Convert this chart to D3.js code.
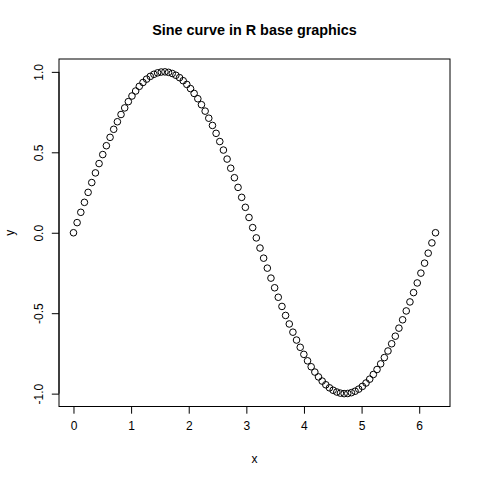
<!DOCTYPE html>
<html>
<head>
<meta charset="utf-8">
<script src="https://cdn.jsdelivr.net/npm/d3@7"></script>
<style>
  body { margin: 0; background: #fff; }
  svg { display: block; font-family: "Liberation Sans", Arial, sans-serif; }
</style>
</head>
<body>
<svg id="chart"></svg>
<script>
// x = seq(0, 2*pi, length.out = 100)
const xValues = [
  0.000, 0.063, 0.127, 0.190, 0.254, 0.317, 0.381, 0.444, 0.508, 0.571,
  0.635, 0.698, 0.762, 0.825, 0.889, 0.952, 1.015, 1.079, 1.142, 1.206,
  1.269, 1.333, 1.396, 1.460, 1.523, 1.587, 1.650, 1.714, 1.777, 1.841,
  1.904, 1.967, 2.031, 2.094, 2.158, 2.221, 2.285, 2.348, 2.412, 2.475,
  2.539, 2.602, 2.666, 2.729, 2.793, 2.856, 2.919, 2.983, 3.046, 3.110,
  3.173, 3.237, 3.300, 3.364, 3.427, 3.491, 3.554, 3.618, 3.681, 3.745,
  3.808, 3.871, 3.935, 3.998, 4.062, 4.125, 4.189, 4.252, 4.316, 4.379,
  4.443, 4.506, 4.570, 4.633, 4.697, 4.760, 4.823, 4.887, 4.950, 5.014,
  5.077, 5.141, 5.204, 5.268, 5.331, 5.395, 5.458, 5.522, 5.585, 5.648,
  5.712, 5.775, 5.839, 5.902, 5.966, 6.029, 6.093, 6.156, 6.220, 6.283
];

const yValues = [
  0.000, 0.063, 0.127, 0.189, 0.251, 0.312, 0.372, 0.430, 0.486, 0.541,
  0.593, 0.643, 0.690, 0.735, 0.776, 0.815, 0.850, 0.881, 0.910, 0.934,
  0.955, 0.972, 0.985, 0.994, 0.999, 1.000, 0.997, 0.990, 0.979, 0.964,
  0.945, 0.922, 0.896, 0.866, 0.833, 0.796, 0.756, 0.712, 0.667, 0.618,
  0.567, 0.514, 0.458, 0.401, 0.342, 0.282, 0.220, 0.158, 0.095, 0.032,
  -0.032, -0.095, -0.158, -0.220, -0.282, -0.342, -0.401, -0.458, -0.514, -0.567,
  -0.618, -0.667, -0.712, -0.756, -0.796, -0.833, -0.866, -0.896, -0.922, -0.945,
  -0.964, -0.979, -0.990, -0.997, -1.000, -0.999, -0.994, -0.985, -0.972, -0.955,
  -0.934, -0.910, -0.881, -0.850, -0.815, -0.776, -0.735, -0.690, -0.643, -0.593,
  -0.541, -0.486, -0.430, -0.372, -0.312, -0.251, -0.189, -0.127, -0.063, 0.000
];

const xTicks = [0, 1, 2, 3, 4, 5, 6];
const yTicks = [-1.0, -0.5, 0.0, 0.5, 1.0];

const width = 480, height = 480;
// R default margins: mar = c(5.1, 4.1, 4.1, 2.1) lines of 14.4px
const margin = { top: 59, right: 30, bottom: 73.5, left: 59 };

const data = xValues.map((x, i) => ({ x, y: yValues[i] }));

// R extends the data range by 4% on each side
const xExt = d3.extent(xValues), yExt = d3.extent(yValues);
const xPad = (xExt[1] - xExt[0]) * 0.04, yPad = (yExt[1] - yExt[0]) * 0.04;

const x = d3.scaleLinear()
    .domain([xExt[0] - xPad, xExt[1] + xPad])
    .range([margin.left, width - margin.right]);

const y = d3.scaleLinear()
    .domain([yExt[0] - yPad, yExt[1] + yPad])
    .range([height - margin.bottom, margin.top]);

// R prints a plain hyphen for negatives
const fmtY = d => d.toFixed(1);

const svg = d3.select("#chart")
    .attr("width", width)
    .attr("height", height)
    .attr("viewBox", [0, 0, width, height]);

// plot box
svg.append("rect")
    .attr("x", margin.left)
    .attr("y", margin.top)
    .attr("width", width - margin.left - margin.right)
    .attr("height", height - margin.top - margin.bottom)
    .attr("fill", "none")
    .attr("stroke", "#000")
    .attr("stroke-width", 1);

// x axis
svg.append("g")
    .attr("transform", `translate(0,${height - margin.bottom})`)
    .call(d3.axisBottom(x).tickValues(xTicks).tickFormat(d3.format("d")).tickSize(7.2).tickPadding(8))
    .call(g => g.select(".domain").attr("d", `M${x(xTicks[0])},0V0H${x(xTicks[xTicks.length - 1])}`))
    .call(g => g.selectAll("text").attr("font-size", 12).attr("fill", "#000")
        .attr("font-family", "Liberation Sans, Arial, sans-serif"));

// y axis, labels parallel to axis like R's las = 0
svg.append("g")
    .attr("transform", `translate(${margin.left},0)`)
    .call(d3.axisLeft(y).tickValues(yTicks).tickFormat(fmtY).tickSize(7.2))
    .call(g => g.select(".domain").attr("d", `M0,${y(yTicks[0])}H0V${y(yTicks[yTicks.length - 1])}`))
    .call(g => g.selectAll("text")
        .attr("font-size", 12)
        .attr("fill", "#000")
        .attr("font-family", "Liberation Sans, Arial, sans-serif")
        .attr("x", null)
        .attr("dy", null)
        .attr("text-anchor", "middle")
        .attr("transform", "translate(-16,0) rotate(-90)"));

svg.selectAll(".domain, .tick line").attr("stroke", "#000");

// points, pch = 1
svg.append("g")
    .attr("fill", "none")
    .attr("stroke", "#000")
    .attr("stroke-width", 1)
  .selectAll("circle")
  .data(data)
  .join("circle")
    .attr("cx", d => x(d.x))
    .attr("cy", d => y(d.y))
    .attr("r", 3.3);

// title and axis labels
svg.append("text")
    .attr("x", (margin.left + width - margin.right) / 2)
    .attr("y", 35)
    .attr("text-anchor", "middle")
    .attr("font-size", 14.4)
    .attr("font-weight", "bold")
    .text("Sine curve in R base graphics");

svg.append("text")
    .attr("x", (margin.left + width - margin.right) / 2)
    .attr("y", 463)
    .attr("text-anchor", "middle")
    .attr("font-size", 12)
    .text("x");

svg.append("text")
    .attr("transform", `translate(14,${(margin.top + height - margin.bottom) / 2}) rotate(-90)`)
    .attr("text-anchor", "middle")
    .attr("font-size", 12)
    .text("y");
</script>
</body>
</html>
